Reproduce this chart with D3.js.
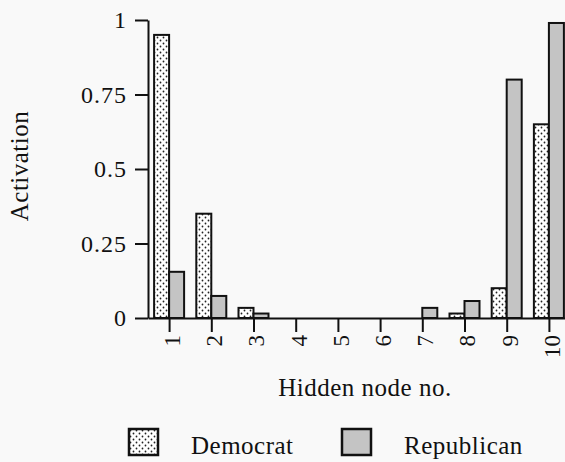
<!DOCTYPE html>
<html>
<head>
<meta charset="utf-8">
<title>Activation by hidden node</title>
<script src="https://d3js.org/d3.v7.min.js"></script>
<style>
  body { margin: 0; background: #f9f9f9; }
  text { font-family: "Liberation Serif", "Times New Roman", serif; fill: #111; }
</style>
</head>
<body>
<div id="chart"></div>
<script>

// data
var nodes = [1, 2, 3, 4, 5, 6, 7, 8, 9, 10];
var democrat   = [0.95, 0.35, 0.034, 0, 0, 0, 0, 0.015, 0.10, 0.65];
var republican = [0.155, 0.074, 0.015, 0, 0, 0, 0.034, 0.057, 0.80, 0.99];
var yTicks = [0, 0.25, 0.5, 0.75, 1];
var seriesNames = ["Democrat", "Republican"];

var width = 565, height = 462;
var barW = 15;

var svg = d3.select("#chart").append("svg")
  .attr("width", width)
  .attr("height", height);

svg.append("rect").attr("width", width).attr("height", height).attr("fill", "#f9f9f9");

// patterns
var defs = svg.append("defs");
var dots = defs.append("pattern")
  .attr("id", "dots")
  .attr("patternUnits", "userSpaceOnUse")
  .attr("width", 6).attr("height", 6);
dots.append("rect").attr("width", 6).attr("height", 6).attr("fill", "#fff");
dots.append("circle").attr("cx", 1.5).attr("cy", 1.5).attr("r", 0.9).attr("fill", "#222");
dots.append("circle").attr("cx", 4.5).attr("cy", 4.5).attr("r", 0.9).attr("fill", "#222");

var fills = { "Democrat": "url(#dots)", "Republican": "#c4c4c4" };

// scales
var x = d3.scaleLinear().domain([0.5, 10.5]).range([148, 570]);
var y = d3.scaleLinear().domain([0, 1]).range([318, 20]);

// rows for bars
var rows = [];
nodes.forEach(function(n, i) {
  rows.push({ node: n, series: "Democrat", value: democrat[i], offset: -barW });
  rows.push({ node: n, series: "Republican", value: republican[i], offset: 0 });
});

svg.append("g").selectAll("rect")
  .data(rows.filter(function(d) { return d.value > 0; }))
  .enter().append("rect")
  .attr("x", function(d) { return x(d.node) + d.offset; })
  .attr("y", function(d) { return y(d.value); })
  .attr("width", barW)
  .attr("height", function(d) { return y(0) - y(d.value); })
  .attr("fill", function(d) { return fills[d.series]; })
  .attr("stroke", "#111")
  .attr("stroke-width", 2);

// y axis
var yAxis = svg.append("g")
  .attr("transform", "translate(" + x(0.5) + ",0)")
  .call(d3.axisLeft(y).tickValues(yTicks).tickSize(13).tickSizeOuter(0).tickFormat(function(d) { return d; }));
yAxis.select(".domain").attr("stroke", "#111").attr("stroke-width", 2);
yAxis.selectAll(".tick line").attr("stroke", "#111").attr("stroke-width", 2);
yAxis.selectAll(".tick text")
  .attr("x", -21)
  .style("font-size", "24px")
  .style("letter-spacing", "1px")
  .style("font-family", "Liberation Serif");

// x axis
var xAxis = svg.append("g")
  .attr("transform", "translate(0," + y(0) + ")")
  .call(d3.axisBottom(x).tickValues(nodes).tickSize(14).tickSizeOuter(0));
xAxis.select(".domain").attr("stroke", "#111").attr("stroke-width", 2);
xAxis.selectAll(".tick line").attr("stroke", "#111").attr("stroke-width", 2);
xAxis.selectAll(".tick text")
  .attr("transform", "translate(0,17) rotate(-90)")
  .attr("x", 0).attr("y", 0)
  .attr("dy", "0.45em")
  .attr("text-anchor", "end")
  .style("font-size", "23px")
  .style("font-family", "Liberation Serif");

// axis titles
svg.append("text")
  .attr("x", 365).attr("y", 396)
  .attr("text-anchor", "middle")
  .style("font-size", "25px")
  .style("letter-spacing", "0.5px")
  .text("Hidden node no.");

svg.append("text")
  .attr("transform", "translate(28,166) rotate(-90)")
  .attr("text-anchor", "middle")
  .style("font-size", "25px")
  .style("letter-spacing", "0.5px")
  .text("Activation");

// legend
var legendX = [129, 342];
var legend = svg.append("g").selectAll("g")
  .data(seriesNames)
  .enter().append("g")
  .attr("transform", function(d, i) { return "translate(" + legendX[i] + ",429)"; });
legend.append("rect")
  .attr("width", 29).attr("height", 26)
  .attr("fill", function(d) { return fills[d]; })
  .attr("stroke", "#111")
  .attr("stroke-width", 2.5);
legend.append("text")
  .attr("x", 62).attr("y", 25)
  .style("font-size", "25px")
  .style("letter-spacing", "0.5px")
  .text(function(d) { return d; });

</script>
</body>
</html>
